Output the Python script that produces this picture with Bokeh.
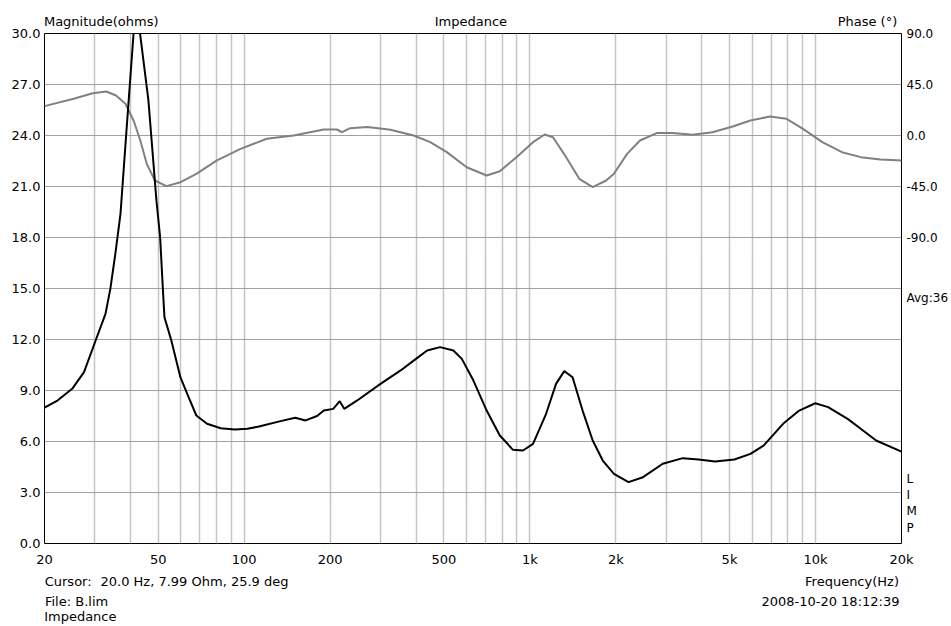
from bokeh.plotting import figure
from bokeh.models import (Range1d, LinearAxis, FixedTicker, NumeralTickFormatter,
                          ColumnDataSource)
from bokeh.embed import file_html
from bokeh.resources import INLINE

# ---------------- data ----------------
mag_freq = [20.0, 22.2, 25.0, 27.5, 30.2, 32.7, 34.0, 35.4, 36.9, 38.5, 41.0,
            42.1, 43.2, 46.2, 49.3, 50.8, 51.8, 52.6, 55.6, 59.8, 63.2, 68.0, 74.1,
            82.8, 92.7, 102.6, 112.7, 134,
            151, 164, 180, 190, 205, 216, 224, 248, 300, 353, 392, 437, 485, 540,
            578, 634, 706, 785, 873, 946, 1026, 1140, 1235, 1320, 1411, 1530, 1660,
            1800, 1970, 2215, 2490, 2920, 3430, 3900, 4450, 5200, 5920, 6580, 7700,
            8770, 9980, 11070, 12960, 14400, 16300, 20000]
mag_ohm = [7.99, 8.41, 9.1, 10.08, 11.94, 13.51, 14.98, 17.04, 19.39, 23.7, 30.0,
           33.0, 30.0, 26.1, 20.18, 18.0, 15.3, 13.3, 11.94, 9.78, 8.8, 7.53, 7.04,
           6.78, 6.71, 6.75, 6.88, 7.2,
           7.4, 7.24, 7.5, 7.82, 7.92, 8.37, 7.92, 8.4, 9.39, 10.18, 10.76, 11.35, 11.55, 11.35,
           10.86, 9.6, 7.82, 6.35, 5.51, 5.47, 5.86, 7.63, 9.39, 10.14, 9.78, 7.82, 6.06,
           4.88, 4.1, 3.61, 3.9, 4.69, 5.02, 4.94, 4.82, 4.94, 5.27, 5.76, 7.04,
           7.82, 8.25, 8.02, 7.33, 6.75, 6.06, 5.4]

phase_freq = [20, 25.3, 29.5, 32.9, 35.6, 38.4, 41.0, 43.3, 45.6, 48.7, 53.4, 59.9,
              68.0, 80.3, 97.1, 120, 149, 190, 211, 220, 235, 270, 325, 392, 448,
              512, 601, 706, 785, 898, 1026, 1127, 1205, 1340, 1490, 1660, 1850,
              1970, 2190, 2430, 2780, 3160, 3710, 4360, 5130, 5920, 6930, 7920,
              9040, 10570, 12380, 14400, 16870, 20000]
phase_deg = [25.9, 32.4, 37.3, 38.8, 35.3, 28, 13.2, -4.4, -25, -39.7, -44.7, -41.2,
             -33.8, -22, -11.8, -2.9, 0, 5.3, 5.3, 2.9, 6.5, 7.4, 5.0, 0, -5.9,
             -14.7, -28, -35.3, -31.5, -19.1, -5.9, 0.9, -1.5, -19.1, -38.2, -45.6, -39.7,
             -33.8, -16.2, -4.4, 2.1, 2.1, 0.6, 2.9, 7.9, 13.2, 16.8, 14.7,
             5.9, -5.9, -14.7, -19.1, -21.2, -22]

x_tick_values = [20, 50, 100, 200, 500, 1000, 2000, 5000, 10000, 20000]
x_tick_labels = ["20", "50", "100", "200", "500", "1k", "2k", "5k", "10k", "20k"]
x_grid_values = [20, 30, 40, 50, 60, 70, 80, 90, 100, 200, 300, 400, 500, 600, 700,
                 800, 900, 1000, 2000, 3000, 4000, 5000, 6000, 7000, 8000, 9000,
                 10000, 20000]
mag_ticks = [0, 3, 6, 9, 12, 15, 18, 21, 24, 27, 30]
phase_ticks = [90, 45, 0, -45, -90]

# texts placed around the frame (anchor position along its axis -> label text)
top_texts = {31.6: "Magnitude(ohms)", 622: "Impedance", 15200: "Phase (°)"}
row1_texts = {24.2: "Cursor:", 67.0: "20.0 Hz, 7.99 Ohm, 25.9 deg", 13420: "Frequency(Hz)"}
row2_texts = {25.9: "File: B.lim", 11280: "2008-10-20 18:12:39"}
row3_texts = {26.7: "Impedance"}
right_texts = {-143: "Avg:36", -303: "L", -317: "I", -331: "M", -346: "P"}

FONT = "DejaVu Sans"
FS = "13px"

p = figure(width=951, height=626, x_axis_type="log",
           x_range=Range1d(20, 20000), y_range=Range1d(0, 30),
           output_backend="svg", toolbar_location=None,
           min_border_left=44, min_border_right=50, min_border_top=33,
           min_border_bottom=83)
p.extra_y_ranges = {"phase": Range1d(-360, 90)}

p.outline_line_color = "black"
p.outline_line_width = 1
p.background_fill_color = "white"
p.border_fill_color = "white"

# grid
p.xgrid.ticker = FixedTicker(ticks=x_grid_values)
p.xgrid.grid_line_color = "#c4c4c4"
p.xgrid.grid_line_width = 1.5
p.ygrid.ticker = FixedTicker(ticks=mag_ticks)
p.ygrid.grid_line_color = "#a0a0a0"
p.ygrid.grid_line_width = 1

# axes
xa = p.xaxis[0]
xa.ticker = FixedTicker(ticks=x_tick_values)
xa.major_label_overrides = {v: l for v, l in zip(x_tick_values, x_tick_labels)}
ya = p.yaxis[0]
ya.ticker = FixedTicker(ticks=mag_ticks)
ya.formatter = NumeralTickFormatter(format="0.0")

ra = LinearAxis(y_range_name="phase",
                ticker=FixedTicker(ticks=phase_ticks + list(right_texts.keys())),
                formatter=NumeralTickFormatter(format="0.0"),
                major_label_overrides=right_texts)
p.add_layout(ra, "right")

top_ax = LinearAxis(ticker=FixedTicker(ticks=list(top_texts.keys())),
                    major_label_overrides=top_texts)
p.add_layout(top_ax, "above")

rows = []
for texts in (row1_texts, row2_texts, row3_texts):
    ax = LinearAxis(ticker=FixedTicker(ticks=list(texts.keys())),
                    major_label_overrides=texts)
    p.add_layout(ax, "below")
    rows.append(ax)

for ax in [xa, ya, ra, top_ax] + rows:
    ax.axis_line_color = None
    ax.major_tick_line_color = None
    ax.minor_tick_line_color = None
    ax.major_tick_out = 0
    ax.major_tick_in = 0
    ax.major_label_text_font = FONT
    ax.major_label_text_font_size = FS
    ax.major_label_text_color = "black"
ra.major_label_text_font_size = "12px"
xa.major_label_standoff = 8
ya.major_label_standoff = 4
ra.major_label_standoff = 5
top_ax.major_label_standoff = 5
rows[0].major_label_standoff = 4
rows[1].major_label_standoff = 2
rows[2].major_label_standoff = -3

# curves
src_mag = ColumnDataSource(dict(f=mag_freq, m=mag_ohm))
src_ph = ColumnDataSource(dict(f=phase_freq, d=phase_deg))
p.line("f", "d", source=src_ph, y_range_name="phase", line_color="#808080", line_width=2)
p.line("f", "m", source=src_mag, line_color="black", line_width=2)

open("out.html", "w").write(file_html(p, INLINE))
